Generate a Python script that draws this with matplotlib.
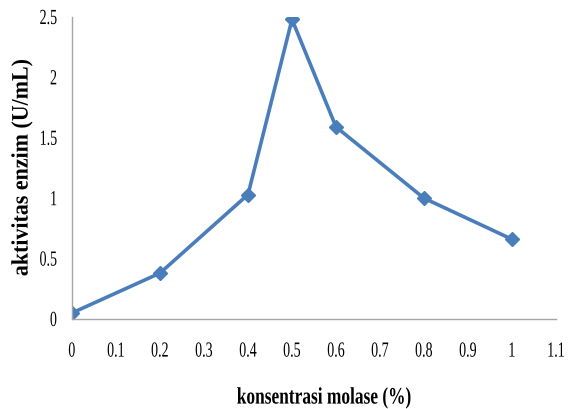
import matplotlib
matplotlib.use("Agg")
import matplotlib.pyplot as plt
from matplotlib import patheffects
from matplotlib.transforms import Affine2D

# Molasses concentration (%) vs. enzyme activity (U/mL)
konsentrasi = [0, 0.2, 0.4, 0.5, 0.6, 0.8, 1.0]
aktivitas = [0.05, 0.38, 1.03, 2.48, 1.59, 1.00, 0.66]

x_ticks = [0, 0.1, 0.2, 0.3, 0.4, 0.5, 0.6, 0.7, 0.8, 0.9, 1, 1.1]
x_tick_labels = ["0", "0.1", "0.2", "0.3", "0.4", "0.5", "0.6", "0.7", "0.8", "0.9", "1", "1.1"]
y_ticks = [0, 0.5, 1, 1.5, 2, 2.5]
y_tick_labels = ["0", "0.5", "1", "1.5", "2", "2.5"]

x_label = "konsentrasi molase (%)"
y_label = "aktivitas enzim (U/mL)"


class Squeeze(patheffects.AbstractPathEffect):
    """Narrow the glyphs along the text direction, keeping the anchor point."""

    def __init__(self, sx=0.65, anchor=0.5):
        super().__init__()
        self._sx = sx
        self._anchor = anchor

    def draw_path(self, renderer, gc, tpath, affine, rgbFace=None):
        verts = tpath.vertices
        w = verts[:, 0].max() if len(verts) else 0.0
        pre = Affine2D().scale(self._sx, 1.0).translate((1 - self._sx) * self._anchor * w, 0)
        renderer.draw_path(gc, tpath, pre + affine, rgbFace)


plt.rcParams["font.family"] = ["Liberation Serif", "DejaVu Serif"]

fig = plt.figure(figsize=(5.77, 4.10), dpi=100)
ax = fig.add_axes([72 / 577, 1 - 320 / 410, (556 - 72) / 577, (320 - 18) / 410])

line_color = "#4A7EBB"
ax.plot(konsentrasi, aktivitas, color=line_color, linewidth=2.6,
        marker="D", markersize=7.6, markerfacecolor=line_color,
        markeredgecolor=line_color, solid_joinstyle="miter")

ax.set_xlim(0, 1.1)
ax.set_ylim(0, 2.5)
ax.set_xticks(x_ticks)
ax.set_xticklabels(x_tick_labels)
ax.set_yticks(y_ticks)

for side in ("top", "right"):
    ax.spines[side].set_visible(False)
for side in ("left", "bottom"):
    ax.spines[side].set_color("#A6A6A6")
    ax.spines[side].set_linewidth(1.0)

tick_size = 15.5
tick_sx = 0.65
ax.tick_params(axis="both", length=0, labelsize=tick_size)
ax.tick_params(axis="x", pad=17)
ax.tick_params(axis="y", labelleft=False)

for lbl in ax.get_xticklabels():
    lbl.set_path_effects([Squeeze(tick_sx, 0.5)])

# y tick labels: narrowed glyphs right-aligned 15 px left of the axis line
renderer = fig.canvas.get_renderer()
gap_px = 15
for val, s in zip(y_ticks, y_tick_labels):
    t = ax.text(0, val, s, transform=ax.get_yaxis_transform(), ha="left",
                va="center_baseline", fontsize=tick_size,
                path_effects=[Squeeze(tick_sx, 0.0)])
    w = t.get_window_extent(renderer).width
    t.set_transform(ax.get_yaxis_transform()
                    + Affine2D().translate(-gap_px - tick_sx * w, 0))

fig.text(324.5 / 577, 1 - 399 / 410, x_label, ha="center", va="center",
         fontsize=17, fontweight="bold", path_effects=[Squeeze(0.735, 0.5)])
fig.text(22 / 577, 1 - 168 / 410, y_label, ha="center", va="center",
         rotation=90, fontsize=17, fontweight="bold",
         path_effects=[Squeeze(0.93, 0.5)])

fig.savefig("out.png", dpi=100)
